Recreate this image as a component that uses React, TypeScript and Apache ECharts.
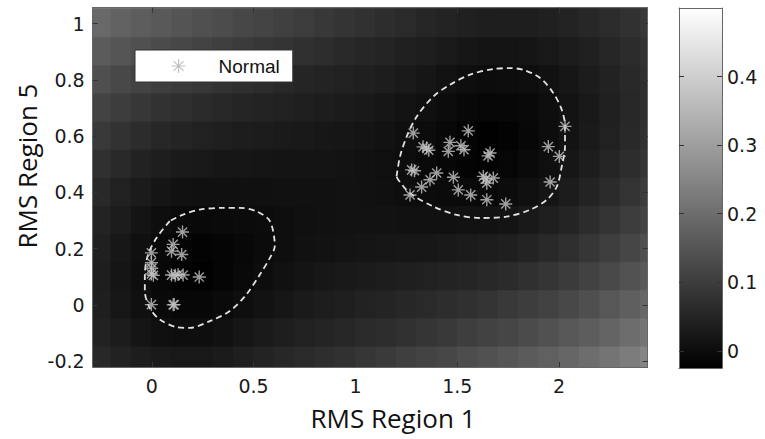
import React, { useEffect, useRef } from "react";
import * as echarts from "echarts";

// ---------- data ----------
const xTickValues = [0, 0.5, 1, 1.5, 2];
const yTickValues = [-0.2, 0, 0.2, 0.4, 0.6, 0.8, 1];
const colorbarTickValues = [0, 0.1, 0.2, 0.3, 0.4];
const xRange = [-0.29, 2.435];
const yRange = [-0.221, 1.057];
const colorbarRange = [-0.025, 0.5];
const colormapMax = 0.5;

// background field: cell centres and values (top row first)
const fieldX = [-0.25, -0.15, -0.05, 0.05, 0.15, 0.25, 0.35, 0.45, 0.55, 0.65, 0.75, 0.85, 0.95, 1.05, 1.15, 1.25, 1.35, 1.45, 1.55, 1.65, 1.75, 1.85, 1.95, 2.05, 2.15, 2.25, 2.35, 2.45];
const fieldY = [1.1, 1.0, 0.9, 0.8, 0.7, 0.6, 0.5, 0.4, 0.3, 0.2, 0.1, 0.0, -0.1, -0.2];
const fieldRows = [
  [0.232, 0.220, 0.210, 0.201, 0.192, 0.183, 0.175, 0.167, 0.158, 0.150, 0.142, 0.134, 0.126, 0.118, 0.111, 0.104, 0.097, 0.090, 0.084, 0.080, 0.078, 0.078, 0.081, 0.086, 0.092, 0.100, 0.110, 0.122],
  [0.205, 0.192, 0.182, 0.174, 0.165, 0.157, 0.149, 0.140, 0.133, 0.125, 0.117, 0.110, 0.102, 0.096, 0.089, 0.082, 0.075, 0.069, 0.063, 0.059, 0.058, 0.059, 0.062, 0.068, 0.076, 0.086, 0.097, 0.110],
  [0.179, 0.166, 0.156, 0.147, 0.139, 0.131, 0.124, 0.116, 0.108, 0.101, 0.094, 0.088, 0.081, 0.074, 0.070, 0.063, 0.058, 0.051, 0.044, 0.040, 0.040, 0.042, 0.047, 0.054, 0.063, 0.074, 0.087, 0.100],
  [0.155, 0.141, 0.131, 0.122, 0.114, 0.107, 0.100, 0.093, 0.086, 0.079, 0.073, 0.069, 0.065, 0.060, 0.056, 0.050, 0.043, 0.036, 0.027, 0.024, 0.025, 0.028, 0.034, 0.043, 0.054, 0.066, 0.080, 0.095],
  [0.132, 0.119, 0.107, 0.099, 0.092, 0.085, 0.078, 0.072, 0.068, 0.064, 0.060, 0.056, 0.053, 0.049, 0.043, 0.037, 0.031, 0.024, 0.016, 0.011, 0.013, 0.018, 0.027, 0.037, 0.049, 0.062, 0.078, 0.094],
  [0.112, 0.098, 0.087, 0.077, 0.070, 0.065, 0.061, 0.057, 0.054, 0.051, 0.049, 0.046, 0.043, 0.040, 0.035, 0.030, 0.023, 0.015, 0.007, 0.002, 0.006, 0.014, 0.025, 0.037, 0.050, 0.064, 0.081, 0.097],
  [0.095, 0.080, 0.067, 0.058, 0.051, 0.047, 0.044, 0.043, 0.042, 0.040, 0.040, 0.039, 0.037, 0.034, 0.030, 0.026, 0.020, 0.013, 0.008, 0.005, 0.011, 0.020, 0.030, 0.043, 0.057, 0.072, 0.088, 0.105],
  [0.080, 0.065, 0.052, 0.041, 0.033, 0.032, 0.031, 0.031, 0.032, 0.034, 0.034, 0.034, 0.035, 0.033, 0.031, 0.027, 0.024, 0.021, 0.019, 0.017, 0.023, 0.032, 0.042, 0.055, 0.069, 0.084, 0.100, 0.118],
  [0.069, 0.054, 0.039, 0.027, 0.019, 0.018, 0.019, 0.021, 0.024, 0.028, 0.031, 0.034, 0.035, 0.035, 0.035, 0.034, 0.034, 0.034, 0.035, 0.036, 0.040, 0.049, 0.060, 0.071, 0.086, 0.101, 0.117, 0.134],
  [0.062, 0.045, 0.031, 0.018, 0.009, 0.005, 0.010, 0.016, 0.022, 0.027, 0.033, 0.036, 0.039, 0.041, 0.043, 0.045, 0.046, 0.049, 0.052, 0.057, 0.061, 0.069, 0.080, 0.092, 0.105, 0.121, 0.137, 0.154],
  [0.058, 0.042, 0.028, 0.015, 0.005, 0.002, 0.010, 0.018, 0.026, 0.033, 0.039, 0.045, 0.049, 0.053, 0.056, 0.060, 0.064, 0.068, 0.073, 0.078, 0.085, 0.094, 0.104, 0.116, 0.130, 0.144, 0.160, 0.177],
  [0.061, 0.045, 0.031, 0.020, 0.014, 0.013, 0.019, 0.028, 0.036, 0.044, 0.051, 0.057, 0.061, 0.066, 0.071, 0.076, 0.082, 0.088, 0.095, 0.102, 0.111, 0.120, 0.130, 0.141, 0.155, 0.170, 0.186, 0.202],
  [0.067, 0.054, 0.041, 0.032, 0.028, 0.028, 0.034, 0.043, 0.051, 0.059, 0.065, 0.071, 0.077, 0.083, 0.089, 0.096, 0.104, 0.112, 0.121, 0.130, 0.138, 0.148, 0.158, 0.170, 0.183, 0.197, 0.213, 0.230],
  [0.079, 0.066, 0.056, 0.050, 0.047, 0.048, 0.053, 0.060, 0.069, 0.076, 0.083, 0.090, 0.097, 0.105, 0.114, 0.123, 0.131, 0.140, 0.150, 0.159, 0.169, 0.178, 0.188, 0.200, 0.213, 0.228, 0.243, 0.261],
];
const fieldCellHalf = 0.05;

// "Normal" samples
const normalPoints = [
  [1.284, 0.611], [1.554, 0.619], [1.35, 0.558], [1.332, 0.562], [1.36, 0.55],
  [1.464, 0.578], [1.456, 0.546], [1.518, 0.566], [1.533, 0.552], [1.661, 0.54],
  [1.651, 0.53], [1.276, 0.48], [1.29, 0.477], [1.399, 0.469], [1.366, 0.445],
  [1.325, 0.419], [1.268, 0.391], [1.481, 0.454], [1.505, 0.409], [1.628, 0.457],
  [1.641, 0.448], [1.677, 0.451], [1.645, 0.433], [1.566, 0.391], [1.645, 0.374],
  [1.738, 0.359], [1.947, 0.563], [2.029, 0.635], [2.001, 0.528], [1.956, 0.437],
  [-0.002, 0.185], [-0.002, 0.15], [0.0, 0.13], [-0.002, 0.11], [0.008, 0.105],
  [0.097, 0.106], [0.115, 0.105], [0.129, 0.108], [0.154, 0.106], [0.233, 0.099],
  [0.151, 0.259], [0.105, 0.215], [0.097, 0.191], [0.147, 0.179], [-0.002, 0.001],
  [0.11, 0.001], [0.105, 0.0],
];

// dashed boundaries
const contourRight = [
  [1.202, 0.457], [1.219, 0.528], [1.252, 0.599], [1.301, 0.67], [1.382, 0.741],
  [1.464, 0.783], [1.563, 0.819], [1.677, 0.839], [1.759, 0.842], [1.825, 0.836],
  [1.907, 0.807], [1.972, 0.753], [2.013, 0.694], [2.029, 0.635], [2.029, 0.563],
  [2.013, 0.492], [1.989, 0.421], [1.94, 0.374], [1.857, 0.338], [1.743, 0.314],
  [1.612, 0.309], [1.497, 0.32], [1.382, 0.35], [1.268, 0.397], [1.21, 0.445],
  [1.202, 0.457],
];
const contourLeft = [
  [0.088, 0.298], [0.023, 0.238], [-0.018, 0.179], [-0.034, 0.108], [-0.034, 0.049],
  [-0.01, -0.011], [0.039, -0.052], [0.121, -0.079], [0.187, -0.082], [0.285, -0.058],
  [0.383, -0.022], [0.465, 0.037], [0.531, 0.108], [0.58, 0.167], [0.604, 0.209],
  [0.58, 0.298], [0.514, 0.333], [0.432, 0.345], [0.35, 0.345], [0.236, 0.339],
  [0.154, 0.321], [0.088, 0.298],
];

const STAR = "path://M6,0L6,12M0,6L12,6M1.76,1.76L10.24,10.24M1.76,10.24L10.24,1.76";
const TICK_FONT = "DejaVu Sans";

export default function App() {
  const ref = useRef<HTMLDivElement>(null);

  useEffect(() => {
    if (!ref.current) return;
    const chart = echarts.init(ref.current, null, { renderer: "svg" });

    const heatData: number[][] = [];
    fieldY.forEach((y, i) => fieldX.forEach((x, j) => heatData.push([x, y, fieldRows[i][j]])));

    const frameLine = { show: true, onZero: false, lineStyle: { color: "#666", width: 1 } };
    const tickStyle = { lineStyle: { color: "#333", width: 1 } };
    const labelStyle = { color: "#1a1a1a", fontSize: 19, fontFamily: TICK_FONT };

    const option: any = {
      animation: false,
      textStyle: { fontFamily: TICK_FONT },
      grid: [
        { left: 92.7, top: 7.7, width: 555, height: 359.3 },
        { left: 679, top: 8, width: 43, height: 360 },
      ],
      xAxis: [
        {
          gridIndex: 0, type: "value", position: "bottom", min: xRange[0], max: xRange[1], z: 10,
          axisLine: frameLine, splitLine: { show: false },
          axisTick: { show: true, inside: true, length: 5, customValues: xTickValues, ...tickStyle },
          axisLabel: { show: true, margin: 9, customValues: xTickValues, ...labelStyle },
        },
        {
          gridIndex: 0, type: "value", position: "top", min: xRange[0], max: xRange[1], z: 10,
          axisLine: frameLine, splitLine: { show: false },
          axisTick: { show: true, inside: true, length: 5, customValues: xTickValues, ...tickStyle },
          axisLabel: { show: false },
        },
        {
          gridIndex: 1, type: "value", position: "bottom", min: 0, max: 1, z: 10,
          axisLine: frameLine, splitLine: { show: false }, axisTick: { show: false }, axisLabel: { show: false },
        },
        {
          gridIndex: 1, type: "value", position: "top", min: 0, max: 1, z: 10,
          axisLine: frameLine, splitLine: { show: false }, axisTick: { show: false }, axisLabel: { show: false },
        },
      ],
      yAxis: [
        {
          gridIndex: 0, type: "value", position: "left", min: yRange[0], max: yRange[1], z: 10,
          axisLine: frameLine, splitLine: { show: false },
          axisTick: { show: true, inside: true, length: 5, customValues: yTickValues, ...tickStyle },
          axisLabel: { show: true, margin: 8, customValues: yTickValues, ...labelStyle },
        },
        {
          gridIndex: 0, type: "value", position: "right", min: yRange[0], max: yRange[1], z: 10,
          axisLine: frameLine, splitLine: { show: false },
          axisTick: { show: true, inside: true, length: 5, customValues: yTickValues, ...tickStyle },
          axisLabel: { show: false },
        },
        {
          gridIndex: 1, type: "value", position: "left", min: colorbarRange[0], max: colorbarRange[1], z: 10,
          axisLine: frameLine, splitLine: { show: false },
          axisTick: { show: true, inside: true, length: 5, customValues: colorbarTickValues, ...tickStyle },
          axisLabel: { show: false },
        },
        {
          gridIndex: 1, type: "value", position: "right", min: colorbarRange[0], max: colorbarRange[1], z: 10,
          axisLine: frameLine, splitLine: { show: false },
          axisTick: { show: true, inside: true, length: 5, customValues: colorbarTickValues, ...tickStyle },
          axisLabel: { show: true, margin: 5, customValues: colorbarTickValues, ...labelStyle },
        },
      ],
      legend: {
        data: ["Normal"],
        left: 135,
        top: 50,
        padding: [6, 13, 6, 36],
        itemWidth: 14,
        itemHeight: 14,
        selectedMode: false,
        backgroundColor: "#ffffff",
        borderColor: "#333",
        borderWidth: 1,
        itemStyle: { color: "#b0b0b0", borderColor: "#b0b0b0", borderWidth: 1.1 },
        textStyle: { fontSize: 19, fontFamily: "Liberation Sans", color: "#111", padding: [0, 0, 0, 28], lineHeight: 20 },
      },
      graphic: [
        {
          type: "text", x: 393, y: 418,
          style: { text: "RMS Region 1", font: '26px "Open Sans"', fill: "#111", align: "center", verticalAlign: "middle" },
        },
        {
          type: "text", x: 27, y: 166, rotation: Math.PI / 2,
          style: { text: "RMS Region 5", font: '26px "Open Sans"', fill: "#111", align: "center", verticalAlign: "middle" },
        },
      ],
      series: [
        {
          name: "field",
          type: "custom",
          xAxisIndex: 0,
          yAxisIndex: 0,
          silent: true,
          z: 1,
          encode: { x: 0, y: 1 },
          data: heatData,
          renderItem: (params: any, api: any) => {
            const x = api.value(0);
            const y = api.value(1);
            const v = api.value(2);
            const a = api.coord([x - fieldCellHalf, y + fieldCellHalf]);
            const b = api.coord([x + fieldCellHalf, y - fieldCellHalf]);
            const cs = params.coordSys;
            const rect = echarts.graphic.clipRectByRect(
              { x: a[0] - 0.5, y: a[1] - 0.5, width: b[0] - a[0] + 1, height: b[1] - a[1] + 1 },
              { x: cs.x, y: cs.y, width: cs.width, height: cs.height }
            );
            if (!rect) return null;
            const g = Math.round(Math.max(0, Math.min(1, v / colormapMax)) * 255);
            return { type: "rect", shape: rect, style: { fill: `rgb(${g},${g},${g})` } };
          },
        },
        {
          name: "boundaryRight",
          type: "line",
          xAxisIndex: 0,
          yAxisIndex: 0,
          z: 3,
          silent: true,
          symbol: "none",
          smooth: 0.3,
          lineStyle: { color: "#e2e2e2", width: 1.8, type: [6, 4] },
          data: contourRight,
        },
        {
          name: "boundaryLeft",
          type: "line",
          xAxisIndex: 0,
          yAxisIndex: 0,
          z: 3,
          silent: true,
          symbol: "none",
          smooth: 0.3,
          lineStyle: { color: "#e2e2e2", width: 1.8, type: [6, 4] },
          data: contourLeft,
        },
        {
          name: "Normal",
          type: "scatter",
          xAxisIndex: 0,
          yAxisIndex: 0,
          z: 4,
          symbol: STAR,
          symbolSize: 13,
          itemStyle: { color: "#c4c4c4", borderColor: "#c4c4c4", borderWidth: 1.4 },
          data: normalPoints,
        },
        {
          name: "colorbar",
          type: "custom",
          xAxisIndex: 2,
          yAxisIndex: 2,
          silent: true,
          z: 1,
          encode: { x: 0, y: [1, 2] },
          data: [[0, colorbarRange[0], colorbarRange[1]]],
          renderItem: (params: any, api: any) => {
            const a = api.coord([0, api.value(2)]);
            const b = api.coord([1, api.value(1)]);
            return {
              type: "rect",
              shape: { x: a[0], y: a[1], width: b[0] - a[0], height: b[1] - a[1] },
              style: {
                fill: {
                  type: "linear", x: 0, y: 0, x2: 0, y2: 1,
                  colorStops: [
                    { offset: 0, color: "#ffffff" },
                    { offset: 1, color: "#000000" },
                  ],
                },
              },
            };
          },
        },
      ],
    };

    chart.setOption(option);
    return () => chart.dispose();
  }, []);

  return (
    <div
      ref={ref}
      style={{ position: "fixed", left: 0, top: 0, width: 765, height: 439, background: "#fff" }}
    />
  );
}
